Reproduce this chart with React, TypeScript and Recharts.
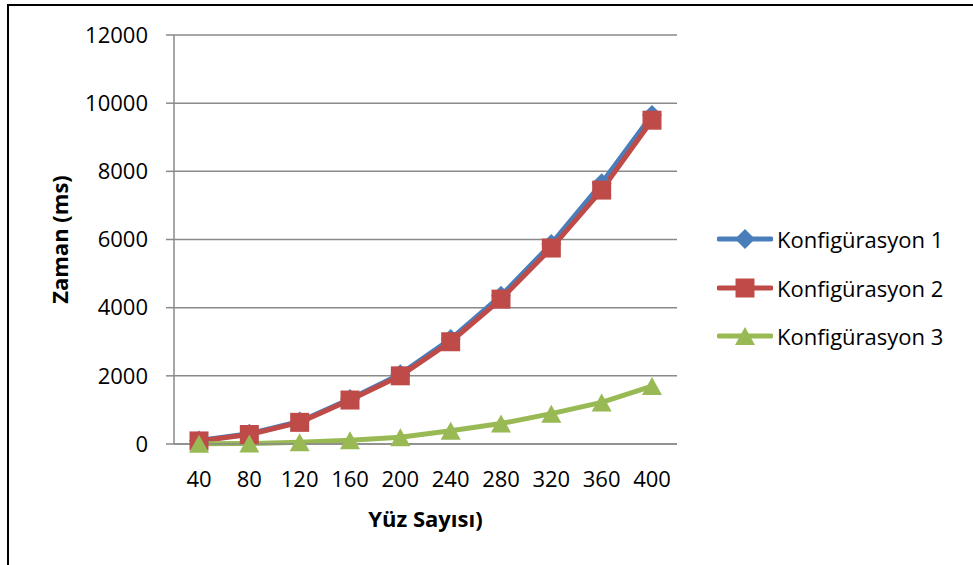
import React from "react";
import { LineChart, Line, XAxis, YAxis, CartesianGrid, Legend, Label } from "recharts";

const FONT = "'Open Sans', 'Liberation Sans', sans-serif";

// face counts on the x axis
const faceCounts = ["40", "80", "120", "160", "200", "240", "280", "320", "360", "400"];

// timings in ms per configuration
const config1 = [100, 300, 660, 1320, 2050, 3080, 4350, 5870, 7650, 9650];
const config2 = [90, 280, 635, 1290, 2000, 3000, 4250, 5750, 7450, 9500];
const config3 = [10, 15, 50, 110, 200, 390, 600, 890, 1220, 1700];

const yTicks = [0, 2000, 4000, 6000, 8000, 10000, 12000];

const seriesNames = ["Konfigürasyon 1", "Konfigürasyon 2", "Konfigürasyon 3"];
const seriesColors = ["#4A7EBB", "#BE4B48", "#98B954"];

const data = faceCounts.map((f, i) => ({
  faces: f,
  k1: config1[i],
  k2: config2[i],
  k3: config3[i],
}));

const GRID = "#8a8a8a";

type Shape = "diamond" | "square" | "triangle";

function markerPath(shape: Shape, cx: number, cy: number) {
  if (shape === "diamond") {
    return `M${cx},${cy - 10}L${cx + 10},${cy}L${cx},${cy + 10}L${cx - 10},${cy}Z`;
  }
  if (shape === "square") {
    return `M${cx - 9.5},${cy - 9.5}h19v19h-19Z`;
  }
  return `M${cx},${cy - 9}L${cx + 10},${cy + 9}L${cx - 10},${cy + 9}Z`;
}

const shapes: Record<string, Shape> = { k1: "diamond", k2: "square", k3: "triangle" };

function makeDot(shape: Shape, color: string) {
  return (props: any) => {
    const { cx, cy, index } = props;
    if (cx == null || cy == null) return <g key={`m-${index}`} />;
    return <path key={`m-${index}`} d={markerPath(shape, cx, cy)} fill={color} />;
  };
}

function LegendBox(props: any) {
  const { payload } = props;
  return (
    <div style={{ display: "flex", flexDirection: "column", fontFamily: FONT }}>
      {(payload || []).map((entry: any) => (
        <div
          key={entry.value}
          style={{ display: "flex", alignItems: "center", height: 48.5 }}
        >
          <svg width={56} height={24}>
            <line x1={2} x2={54} y1={12} y2={12} stroke={entry.color} strokeWidth={5} strokeLinecap="round" />
            <path d={markerPath(shapes[entry.dataKey], 28, 12)} fill={entry.color} />
          </svg>
          <span style={{ marginLeft: 4, fontSize: 22, color: "#000" }}>{entry.value}</span>
        </div>
      ))}
    </div>
  );
}

export default function App() {
  const tickStyle = { fill: "#000", fontSize: 22, fontFamily: FONT };
  return (
    <div
      style={{
        position: "absolute",
        left: 0,
        top: 0,
        width: 973,
        height: 565,
        overflow: "hidden",
        background: "#fff",
      }}
    >
      <div
        style={{
          position: "absolute",
          left: 7,
          top: 4,
          width: 1000,
          height: 600,
          borderTop: "2px solid #000",
          borderLeft: "2px solid #000",
        }}
      />
      <div style={{ position: "absolute", left: 0, top: 0 }}>
        <LineChart
          width={973}
          height={565}
          data={data}
          margin={{ top: 35, right: 296, bottom: 0, left: 0 }}
        >
          <CartesianGrid vertical={false} stroke={GRID} strokeWidth={1.5} />
          <XAxis
            dataKey="faces"
            interval={0}
            height={121}
            padding={{ left: 25, right: 25 }}
            tickLine={false}
            tickSize={8}
            tickMargin={19}
            axisLine={{ stroke: GRID, strokeWidth: 1.5 }}
            tick={tickStyle}
          >
            <Label
              value="Yüz Sayısı)"
              position="insideBottom"
              offset={38}
              fill="#000"
              style={{ fontFamily: FONT, fontSize: 22, fontWeight: 700 }}
            />
          </XAxis>
          <YAxis
            width={174}
            domain={[0, 12000]}
            ticks={yTicks}
            interval={0}
            tickSize={8}
            tickMargin={18}
            tickLine={{ stroke: GRID, strokeWidth: 1.5 }}
            axisLine={{ stroke: GRID, strokeWidth: 1.5 }}
            tick={tickStyle}
          >
            <Label
              content={(p: any) => {
                const vb = p.viewBox || { x: 0, y: 35, width: 174, height: 409 };
                return (
                  <text
                    transform={`translate(${vb.x + 68},${vb.y + vb.height / 2}) rotate(-90)`}
                    textAnchor="middle"
                    fill="#000"
                    style={{ fontFamily: FONT, fontSize: 22, fontWeight: 700 }}
                  >
                    Zaman (ms)
                  </text>
                );
              }}
            />
          </YAxis>
          <Legend
            layout="vertical"
            align="center"
            verticalAlign="middle"
            wrapperStyle={{ left: 717, top: 215, width: 250 }}
            content={<LegendBox />}
          />
          {(["k1", "k2", "k3"] as const).map((key, i) => (
            <Line
              key={key}
              dataKey={key}
              name={seriesNames[i]}
              stroke={seriesColors[i]}
              strokeWidth={5}
              strokeLinejoin="round"
              dot={makeDot(shapes[key], seriesColors[i])}
              activeDot={false}
              isAnimationActive={false}
            />
          ))}
        </LineChart>
      </div>
    </div>
  );
}
